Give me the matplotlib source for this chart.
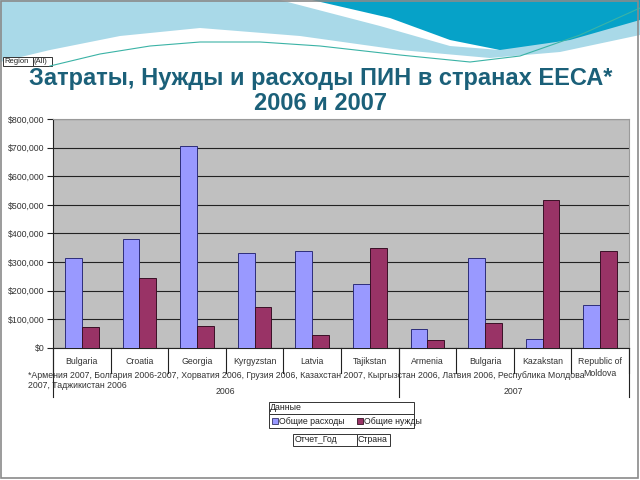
import matplotlib
matplotlib.use("Agg")
import matplotlib.pyplot as plt
from matplotlib.patches import Rectangle, Polygon
from matplotlib.transforms import blended_transform_factory
import numpy as np

plt.rcParams['font.family'] = ['Liberation Sans', 'DejaVu Sans']

countries = ["Bulgaria", "Croatia", "Georgia", "Kyrgyzstan", "Latvia", "Tajikstan",
             "Armenia", "Bulgaria", "Kazakstan", "Republic of\nMoldova"]
years = ["2006", "2007"]
year_counts = [6, 4]
total_spend = [315000, 381000, 706000, 331000, 338000, 224000, 66000, 316000, 31000, 149000]
total_needs = [73000, 245000, 77000, 144000, 45000, 350000, 29000, 87000, 517000, 339000]
yticks = [0, 100000, 200000, 300000, 400000, 500000, 600000, 700000, 800000]
series_names = ["Общие расходы", "Общие нужды"]
title1 = "Затраты, Нужды и расходы ПИН в странах ЕЕСА*"
title2 = "2006 и 2007"
footnote1 = ("*Армения 2007, Болгария 2006-2007, Хорватия 2006, Грузия 2006, Казахстан 2007, "
             "Кыргызстан 2006, Латвия 2006, Республика Молдова")
footnote2 = "2007, Таджикистан 2006"

fig = plt.figure(figsize=(6.4, 4.8), dpi=100)
fig.patch.set_facecolor('white')

# background / decoration axes in pixel coordinates
bg = fig.add_axes([0, 0, 1, 1], zorder=0)
bg.set_xlim(0, 640)
bg.set_ylim(480, 0)
bg.axis('off')
bg.add_patch(Polygon([(0, 0), (640, 0), (640, 35), (560, 52), (490, 58), (400, 50), (300, 36),
                      (200, 28), (120, 36), (50, 50), (0, 62)], closed=True,
                     facecolor='#a9d9e8', edgecolor='none'))
bg.add_patch(Polygon([(280, 0), (320, 0), (400, 20), (470, 40), (500, 50), (450, 46), (380, 26)],
                     closed=True, facecolor='white', edgecolor='none'))
bg.add_patch(Polygon([(312, 0), (640, 0), (640, 20), (570, 40), (500, 50), (450, 40), (390, 18)],
                     closed=True, facecolor='#06a2c8', edgecolor='none'))
lx = [50, 100, 150, 200, 260, 320, 400, 470, 520, 580, 640]
ly = [66, 54, 46, 42, 42, 46, 55, 62, 56, 35, 8]
bg.plot(lx, ly, color='#3bb3a6', lw=0.8)
bg.add_patch(Rectangle((1, 1), 637, 477, facecolor='none', edgecolor='#8a8a8a', lw=1.2))

# Region (All) boxes
bg.add_patch(Rectangle((3, 57), 30, 9, facecolor='white', edgecolor='#333333', lw=0.7))
bg.add_patch(Rectangle((33, 57), 19, 9, facecolor='white', edgecolor='#333333', lw=0.7))
bg.text(4, 61.5, "Region", fontsize=5.5, va='center', ha='left', color='#222222')
bg.text(34, 61.5, "(All)", fontsize=5.5, va='center', ha='left', color='#222222')

# title
bg.text(321, 78, title1, fontsize=17, fontweight='bold', color='#1b6079', ha='center', va='center')
bg.text(321, 103, title2, fontsize=17, fontweight='bold', color='#1b6079', ha='center', va='center')

# footnote
bg.text(28, 375, footnote1, fontsize=6.3, color='#333333', ha='left', va='center')
bg.text(28, 386, footnote2, fontsize=6.3, color='#333333', ha='left', va='center')

# legend boxes
bg.add_patch(Rectangle((269, 402), 145, 12, facecolor='white', edgecolor='#333333', lw=0.7))
bg.text(270, 408, "Данные", fontsize=6.3, va='center', ha='left', color='#222222')
bg.add_patch(Rectangle((269, 414), 145, 14, facecolor='white', edgecolor='#333333', lw=0.7))
bg.add_patch(Rectangle((272, 418), 6, 6, facecolor='#9999ff', edgecolor='#333366', lw=0.6))
bg.text(279, 421, series_names[0], fontsize=6.3, va='center', ha='left', color='#222222')
bg.add_patch(Rectangle((357, 418), 6, 6, facecolor='#993366', edgecolor='#331122', lw=0.6))
bg.text(364, 421, series_names[1], fontsize=6.3, va='center', ha='left', color='#222222')
bg.add_patch(Rectangle((293, 434), 64, 12, facecolor='white', edgecolor='#333333', lw=0.7))
bg.add_patch(Rectangle((357, 434), 33, 12, facecolor='white', edgecolor='#333333', lw=0.7))
bg.text(295, 440, "Отчет_Год", fontsize=6.3, va='center', ha='left', color='#222222')
bg.text(358, 440, "Страна", fontsize=6.3, va='center', ha='left', color='#222222')

# main chart
left, right, top, bottom = 53, 629, 119, 348
ax = fig.add_axes([left / 640, 1 - bottom / 480, (right - left) / 640, (bottom - top) / 480], zorder=1)
ax.set_facecolor('#c0c0c0')
n = len(countries)
x = np.arange(n)
w = 0.29
ax.bar(x - w / 2, total_spend, width=w, color='#9999ff', edgecolor='#2e2e7a', linewidth=0.7, zorder=3)
ax.bar(x + w / 2, total_needs, width=w, color='#993366', edgecolor='#3a1026', linewidth=0.7, zorder=3)
ax.set_xlim(-0.5, n - 0.5)
ax.set_ylim(0, 800000)
ax.set_yticks(yticks)
ax.set_yticklabels(["$0" if v == 0 else "${:,}".format(v) for v in yticks], fontsize=6.3, color='#333333')
ax.yaxis.grid(True, color='#222222', lw=0.8, zorder=1)
ax.tick_params(axis='y', length=4, width=0.8, pad=2, color='#222222')
ax.set_xticks([])
for s in ['top', 'right']:
    ax.spines[s].set_color('#9a9a9a')
    ax.spines[s].set_linewidth(0.8)
for s in ['left', 'bottom']:
    ax.spines[s].set_color('#222222')
    ax.spines[s].set_linewidth(0.8)

trans = blended_transform_factory(ax.transData, ax.transAxes)
for i, c in enumerate(countries):
    ax.text(i, -0.04, c, transform=trans, ha='center', va='top', fontsize=6.3, color='#333333',
            linespacing=1.35)
# category separators
bounds_long = [-0.5]
acc = -0.5
for cnt in year_counts:
    acc += cnt
    bounds_long.append(acc)
for b in np.arange(-0.5, n, 1.0):
    ax.plot([b, b], [0, -0.109], transform=trans, color='#222222', lw=0.8, clip_on=False)
for b in bounds_long:
    ax.plot([b, b], [0, -0.214], transform=trans, color='#222222', lw=0.8, clip_on=False)
start = -0.5
for yr, cnt in zip(years, year_counts):
    ax.text(start + cnt / 2, -0.19, yr, transform=trans, ha='center', va='center', fontsize=6.3,
            color='#333333')
    start += cnt

fig.savefig("out.png", dpi=100)
